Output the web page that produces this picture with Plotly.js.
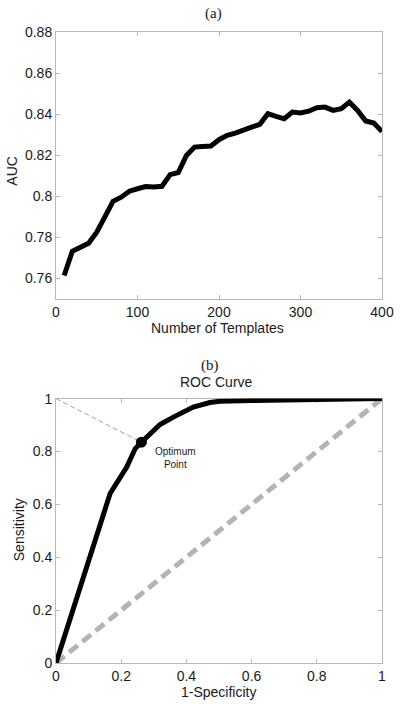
<!DOCTYPE html>
<html>
<head>
<meta charset="utf-8">
<script src="https://cdn.plot.ly/plotly-3.0.1.min.js"></script>
<style>html,body{margin:0;padding:0;background:#fff;}#chart{width:400px;height:705px;}</style>
</head>
<body>
<div id="chart"></div>
<script>
// ---- Panel (a): AUC vs number of templates ----
var templates = [10,20,30,40,50,60,70,80,90,100,110,120,130,140,150,160,170,180,190,200,
                 210,220,230,240,250,260,270,280,290,300,310,320,330,340,350,360,370,380,390,400];
var auc = [0.7613,0.7731,0.7751,0.7770,0.7824,0.7905,0.7975,0.7995,0.8024,0.8036,
           0.8047,0.8044,0.8048,0.8105,0.8115,0.8198,0.8239,0.8242,0.8244,0.8275,
           0.8296,0.8307,0.8324,0.8336,0.8350,0.8402,0.8389,0.8377,0.8410,0.8405,
           0.8414,0.8431,0.8434,0.8418,0.8426,0.8458,0.8418,0.8366,0.8356,0.8315];
var aucTicks = [0.76,0.78,0.80,0.82,0.84,0.86,0.88];
var templateTicks = [0,100,200,300,400];

// ---- Panel (b): ROC curve ----
var rocFpr = [0,0.166,0.217,0.243,0.262,0.319,0.360,0.421,0.472,0.503,0.60,0.80,1.0];
var rocTpr = [0,0.641,0.741,0.811,0.835,0.902,0.930,0.968,0.985,0.990,0.993,0.997,1.0];
var chanceX = [0,1];
var chanceY = [0,1];
var optimumX = [0.262];
var optimumY = [0.835];
var refLineX = [0,0.262];
var refLineY = [1,0.835];
var rocTicks = [0,0.2,0.4,0.6,0.8,1];

var sans = 'Liberation Sans, Arial, Helvetica, sans-serif';
var serif = 'Liberation Serif, Times New Roman, serif';

var traces = [
  {x: templates, y: auc, type: 'scatter', mode: 'lines', xaxis: 'x', yaxis: 'y',
   line: {color: '#000', width: 5}, hoverinfo: 'skip'},
  {x: chanceX, y: chanceY, type: 'scatter', mode: 'lines', xaxis: 'x2', yaxis: 'y2',
   line: {color: '#b4b4b4', width: 5, dash: '11px,6px'}, hoverinfo: 'skip'},
  {x: refLineX, y: refLineY, type: 'scatter', mode: 'lines', xaxis: 'x2', yaxis: 'y2',
   line: {color: '#a0a0a0', width: 1, dash: '5px,3px'}, hoverinfo: 'skip'},
  {x: rocFpr, y: rocTpr, type: 'scatter', mode: 'lines', xaxis: 'x2', yaxis: 'y2',
   line: {color: '#000', width: 5}, hoverinfo: 'skip'},
  {x: optimumX, y: optimumY, type: 'scatter', mode: 'markers', xaxis: 'x2', yaxis: 'y2',
   marker: {color: '#000', size: 11}, hoverinfo: 'skip'}
];

function axisBase(extra) {
  var a = {
    showgrid: false, zeroline: false, showline: true, mirror: 'ticks',
    linecolor: '#b8b8b8', linewidth: 1, ticks: 'inside', ticklen: 4,
    tickcolor: '#b8b8b8', layer: 'below traces',
    tickfont: {family: sans, size: 14, color: '#1a1a1a'}
  };
  for (var k in extra) a[k] = extra[k];
  return a;
}

var layout = {
  width: 400, height: 705,
  margin: {l: 56, r: 18, t: 32, b: 42},
  paper_bgcolor: '#fff', plot_bgcolor: '#fff',
  showlegend: false,
  xaxis: axisBase({domain: [0,1], anchor: 'y', range: [0,400], tickvals: templateTicks}),
  yaxis: axisBase({domain: [0.5773,1], anchor: 'x', range: [0.75,0.88], tickvals: aucTicks}),
  xaxis2: axisBase({domain: [0,1], anchor: 'y2', range: [0,1], tickvals: rocTicks}),
  yaxis2: axisBase({domain: [0,0.419], anchor: 'x2', range: [0,1], tickvals: rocTicks}),
  annotations: [
    {text: '(a)', xref: 'paper', yref: 'paper', x: 0.4816, y: 1.0297, showarrow: false,
     xanchor: 'center', yanchor: 'middle', font: {family: serif, size: 15, color: '#1a1a1a'}},
    {text: 'AUC', xref: 'paper', yref: 'paper', x: -0.1338, y: 0.7808, textangle: -90, showarrow: false,
     xanchor: 'center', yanchor: 'middle', font: {family: sans, size: 14, color: '#1a1a1a'}},
    {text: 'Number of Templates', xref: 'paper', yref: 'paper', x: 0.4939, y: 0.5304, showarrow: false,
     xanchor: 'center', yanchor: 'middle', font: {family: sans, size: 14, color: '#1a1a1a'}},
    {text: '(b)', xref: 'paper', yref: 'paper', x: 0.472, y: 0.4718, showarrow: false,
     xanchor: 'center', yanchor: 'middle', font: {family: serif, size: 15, color: '#1a1a1a'}},
    {text: 'ROC Curve', xref: 'paper', yref: 'paper', x: 0.4908, y: 0.4449, showarrow: false,
     xanchor: 'center', yanchor: 'middle', font: {family: sans, size: 14, color: '#1a1a1a'}},
    {text: 'Sensitivity', xref: 'paper', yref: 'paper', x: -0.1124, y: 0.211, textangle: -90, showarrow: false,
     xanchor: 'center', yanchor: 'middle', font: {family: sans, size: 14, color: '#1a1a1a'}},
    {text: '1-Specificity', xref: 'paper', yref: 'paper', x: 0.499, y: -0.0464, showarrow: false,
     xanchor: 'center', yanchor: 'middle', font: {family: sans, size: 14, color: '#1a1a1a'}},
    {text: 'Optimum<br>Point', xref: 'x2', yref: 'y2', x: 0.368, y: 0.774, showarrow: false,
     xanchor: 'center', yanchor: 'middle', font: {family: sans, size: 10, color: '#1a1a1a'}}
  ]
};

Plotly.newPlot('chart', traces, layout, {staticPlot: true, displayModeBar: false});
</script>
</body>
</html>
